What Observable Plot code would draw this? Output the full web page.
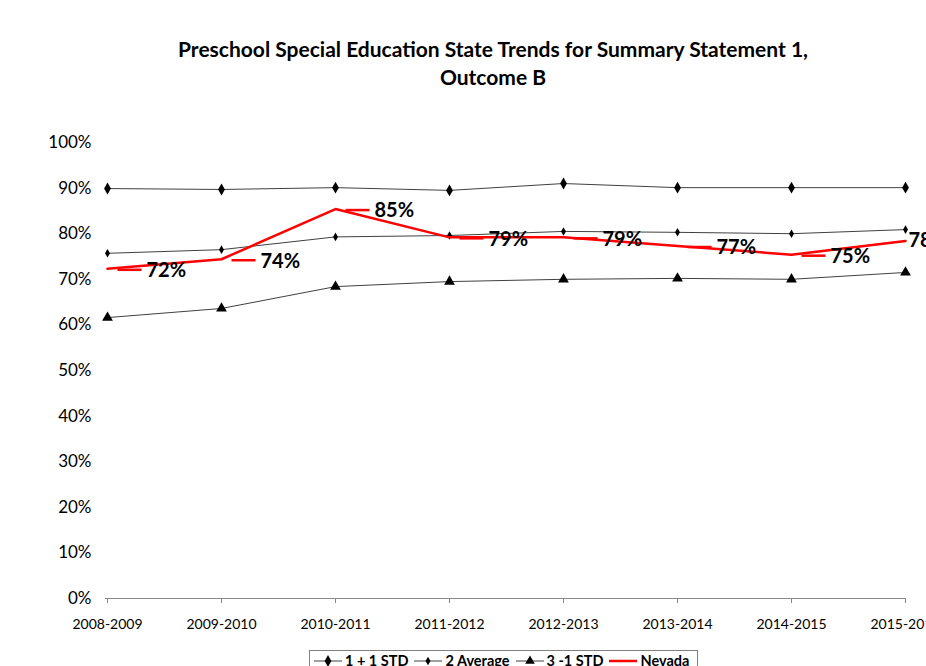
<!DOCTYPE html>
<html>
<head>
<meta charset="utf-8">
<script src="https://cdn.jsdelivr.net/npm/d3@7"></script>
<script src="https://cdn.jsdelivr.net/npm/@observablehq/plot@0.6"></script>
<style>
  html, body { margin: 0; padding: 0; background: #fff; overflow: hidden; width: 926px; height: 666px; }
  body { position: relative; font-family: Lato, "Open Sans", sans-serif; }
  #title { box-sizing: border-box; height: 100px; padding-top: 35px; width: 986px; text-align: center; font-weight: bold; font-size: 21px; line-height: 28px; color: #000; }
  #chart { width: 960px; }
  #chart svg { max-width: none !important; width: 960px; height: 545px; }
  #legend { position: absolute; left: 309px; top: 650px; width: 389px; height: 30px; box-sizing: border-box; border: 1px solid #808080; display: flex; align-items: flex-start; padding: 1px 0 0 4px; font-weight: bold; font-size: 14.5px; line-height: 18px; color: #000; white-space: nowrap; }
  #legend .item { display: flex; align-items: center; margin-right: 6px; }
  #legend svg { margin-right: 3px; }
</style>
</head>
<body>
<div id="title">Preschool Special Education State Trends for Summary Statement 1,<br>Outcome B</div>
<div id="chart"></div>
<div id="legend"></div>
<script>
const years = ["2008-2009", "2009-2010", "2010-2011", "2011-2012", "2012-2013", "2013-2014", "2014-2015", "2015-2016"];
const plusOneStd = [89.9, 89.7, 90.1, 89.5, 91.0, 90.1, 90.1, 90.1];
const average = [75.7, 76.5, 79.3, 79.6, 80.5, 80.3, 80.0, 80.9];
const minusOneStd = [61.6, 63.6, 68.4, 69.5, 70.0, 70.2, 70.0, 71.5];
const nevada = [72.3, 74.4, 85.4, 79.2, 79.2, 77.3, 75.4, 78.4];
const yTicks = [0, 10, 20, 30, 40, 50, 60, 70, 80, 90, 100];
const seriesNames = ["1 + 1 STD", "2 Average", "3 -1 STD", "Nevada"];

const toRows = (vals, name) => vals.map((v, i) => ({year: years[i], value: v, series: name, idx: i}));
const rowsPlus = toRows(plusOneStd, seriesNames[0]);
const rowsAvg = toRows(average, seriesNames[1]);
const rowsMinus = toRows(minusOneStd, seriesNames[2]);
const rowsNv = toRows(nevada, seriesNames[3]);

// custom symbol: a short horizontal line (label leader)
const leader = { draw(context, size) { context.moveTo(-12, 0); context.lineTo(12, 0); } };

const grey = "#404040";
const chart = Plot.plot({
  width: 960,
  height: 545,
  marginLeft: 105,
  marginRight: 54,
  marginTop: 42,
  marginBottom: 47,
  style: { fontFamily: "Lato, 'Open Sans', sans-serif", color: "#000", background: "transparent" },
  x: { type: "point", domain: years, padding: 0, label: null },
  y: { domain: [0, 100], label: null },
  marks: [
    Plot.axisY({ ticks: yTicks, tickFormat: d => d + "%", tickSize: 0, tickPadding: 14, fontSize: 17, fill: "#000" }),
    Plot.axisX({ tickSize: 5, tickPadding: 16, fontSize: 14, stroke: "#888", fill: "#000" }),
    Plot.ruleY([0], { stroke: "#888" }),
    Plot.line(rowsPlus, { x: "year", y: "value", stroke: grey, strokeWidth: 1 }),
    Plot.line(rowsAvg, { x: "year", y: "value", stroke: grey, strokeWidth: 1 }),
    Plot.line(rowsMinus, { x: "year", y: "value", stroke: grey, strokeWidth: 1 }),
    Plot.dot(rowsPlus, { x: "year", y: "value", symbol: "diamond", r: 3.6, fill: "#000" }),
    Plot.dot(rowsAvg, { x: "year", y: "value", symbol: "diamond", r: 2.6, fill: "#000" }),
    Plot.dot(rowsMinus, { x: "year", y: "value", symbol: "triangle", r: 4, fill: "#000" }),
    Plot.line(rowsNv, { x: "year", y: "value", stroke: "#ff0000", strokeWidth: 2.5 }),
    Plot.dot(rowsNv, { filter: d => d.idx < years.length - 1, x: "year", y: "value", symbol: leader, r: 5, stroke: "#ff0000", strokeWidth: 2.5, dx: 22, dy: 1 }),
    Plot.text(rowsNv, { filter: d => d.idx < years.length - 1, x: "year", y: "value", text: d => Math.round(d.value) + "%", textAnchor: "start", dx: 39, dy: 2, fontSize: 20, fontWeight: "bold", fill: "#000" }),
    Plot.text(rowsNv, { filter: d => d.idx === years.length - 1, x: "year", y: "value", text: d => Math.round(d.value) + "%", textAnchor: "start", dx: 3, dy: 0, fontSize: 20, fontWeight: "bold", fill: "#000" })
  ]
});
document.getElementById("chart").appendChild(chart);

// legend
const legend = d3.select("#legend");
const styles = [
  { stroke: grey, sw: 1, symbol: d3.symbolDiamond, size: 40 },
  { stroke: grey, sw: 1, symbol: d3.symbolDiamond, size: 22 },
  { stroke: grey, sw: 1, symbol: d3.symbolTriangle, size: 40 },
  { stroke: "#ff0000", sw: 2.5, symbol: null }
];
seriesNames.forEach((name, i) => {
  const it = legend.append("div").attr("class", "item");
  const s = it.append("svg").attr("width", 28).attr("height", 16);
  s.append("line").attr("x1", 0).attr("x2", 28).attr("y1", 8).attr("y2", 8).attr("stroke", styles[i].stroke).attr("stroke-width", styles[i].sw);
  if (styles[i].symbol) s.append("path").attr("d", d3.symbol(styles[i].symbol, styles[i].size)()).attr("transform", "translate(14,8)").attr("fill", "#000");
  it.append("span").text(name);
});
</script>
</body>
</html>
